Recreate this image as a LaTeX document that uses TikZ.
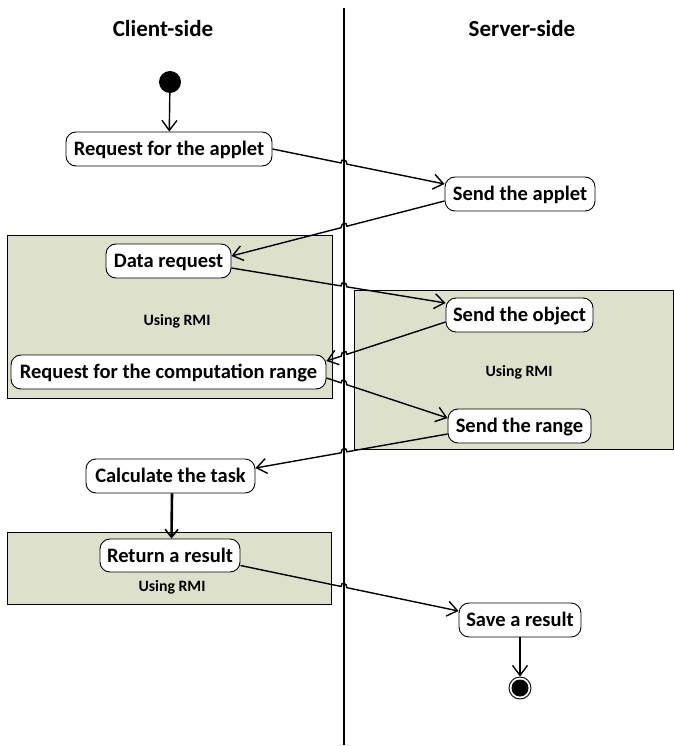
\documentclass[tikz,border=0pt]{standalone}
\usepackage{fontspec}
\setmainfont{Carlito}
\usetikzlibrary{arrows.meta,calc}

\definecolor{lanegreen}{RGB}{221,225,203}

% connector that crosses the lane divider with a small hop
\newcommand\hopflow[3]{%
  \coordinate (#3) at (intersection of #1--#2 and lt--lb);
  \draw[flow] (#1) -- ($(#3)!3pt!(#1)$)
    .. controls +(0,-5) and +(0,-5) .. ($(#3)!3pt!(#2)$) -- (#2);}

\begin{document}
\begin{tikzpicture}[x=1pt,y=-1pt,
  act/.style={draw, line width=0.9pt, rounded corners=10pt, fill=white,
    inner sep=0pt, minimum height=34pt, text height=15pt, text depth=2pt,
    font=\bfseries\fontsize{20.5}{24}\selectfont},
  header/.style={font=\bfseries\fontsize{23}{26}\selectfont},
  rmi/.style={font=\bfseries\fontsize{15.8}{18}\selectfont},
  region/.style={draw, line width=0.9pt, fill=lanegreen},
  flow/.style={line width=1.4pt, -{Straight Barb[length=10pt,width=15pt,line width=1.4pt]}},
  thickflow/.style={line width=2.6pt, -{Straight Barb[length=8pt,width=13pt,line width=1.6pt]}}]

\useasboundingbox (0,0) rectangle (673,746);

% interaction regions
\draw[region] (7,235) rectangle (332,398);
\draw[region] (354,290) rectangle (673,449);
\draw[region] (7,532) rectangle (331,604);

% lane divider
\coordinate (lt) at (344,8);
\coordinate (lb) at (344,745);
\draw[line width=2pt] (lt) -- (lb);

% lane titles
\node[header] (hc) at (163,29) {Client-side};
\node[header] (hs) at (522,29) {Server-side};

\node[rmi] (u1) at (177,321) {Using RMI};
\node[rmi] (u2) at (519,372) {Using RMI};
\node[rmi] (u3) at (172,587) {Using RMI};

% start and end
\node[circle, fill=black, minimum size=22pt, inner sep=0pt] (start) at (170,82) {};
\node[circle, draw, line width=0.9pt, fill=white, minimum size=22pt, inner sep=0pt] (stop) at (520,688) {};
\node[circle, fill=black, minimum size=17pt, inner sep=0pt] (stopin) at (stop) {};

% activities
\node[act, minimum width=206pt] (r1) at (169,149) {Request for the applet};
\node[act, minimum width=150pt] (s1) at (520,194) {Send the applet};
\node[act, minimum width=125pt] (d1) at (168.5,261) {Data request};
\node[act, minimum width=147pt] (s2) at (519.5,315) {Send the object};
\node[act, minimum width=315pt] (rc) at (168.5,372) {Request for the computation range};
\node[act, minimum width=143pt] (s3) at (519.5,426) {Send the range};
\node[act, minimum width=169pt] (ct) at (170.5,476) {Calculate the task};
\node[act, minimum width=140pt, minimum height=33pt] (rr) at (170,555.5) {Return a result};
\node[act, minimum width=122pt] (sv) at (520,620) {Save a result};

% flows
\draw[flow] (start) -- (r1);

\coordinate (a1) at (r1.east);
\coordinate (b1) at ($(s1.west)+(0,-10)$);
\hopflow{a1}{b1}{x1}

\coordinate (a2) at ($(s1.west)+(0,7)$);
\coordinate (b2) at ($(d1.east)+(0,-5)$);
\hopflow{a2}{b2}{x2}

\coordinate (a3) at ($(d1.east)+(0,7)$);
\coordinate (b3) at ($(s2.west)+(0,-12)$);
\hopflow{a3}{b3}{x3}

\coordinate (a4) at ($(s2.west)+(0,7)$);
\coordinate (b4) at ($(rc.east)+(0,-11)$);
\hopflow{a4}{b4}{x4}

\coordinate (a5) at ($(rc.east)+(0,6)$);
\coordinate (b5) at ($(s3.west)+(0,-8)$);
\hopflow{a5}{b5}{x5}

\coordinate (a6) at ($(s3.west)+(0,8)$);
\coordinate (b6) at ($(ct.east)+(0,-8)$);
\hopflow{a6}{b6}{x6}

\draw[thickflow] ([xshift=1.5pt]ct.south) -- ([xshift=1.5pt]rr.north);

\coordinate (a8) at ($(rr.east)+(0,10)$);
\coordinate (b8) at ($(sv.west)+(0,-9)$);
\hopflow{a8}{b8}{x8}

\draw[flow] (sv) -- (stop);

\end{tikzpicture}
\end{document}
